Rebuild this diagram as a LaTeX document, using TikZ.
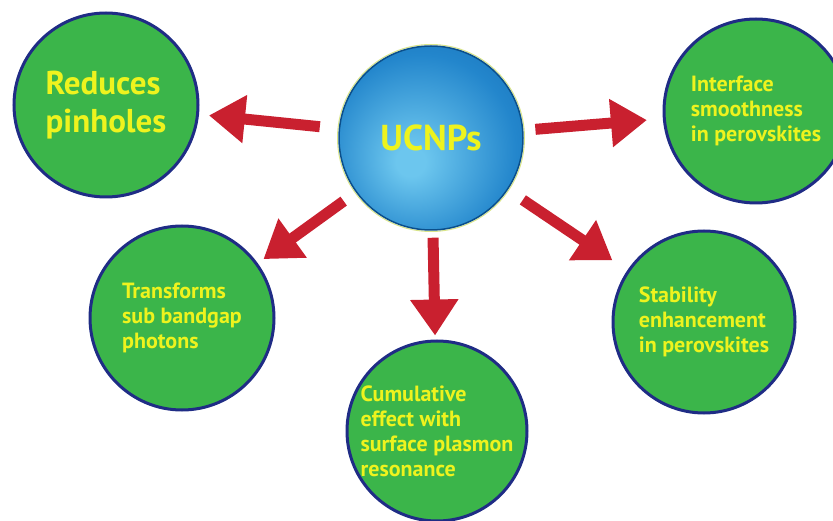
\documentclass[tikz,border=0pt]{standalone}
\usepackage{fontspec}
\setmainfont{PT Sans}
\usetikzlibrary{arrows.meta}
\definecolor{cgreen}{HTML}{3BB54A}
\definecolor{cnavy}{HTML}{1F2C85}
\definecolor{cyel}{HTML}{EEF31E}
\definecolor{cred}{HTML}{C9202F}
\definecolor{ballin}{HTML}{6CC6EE}
\definecolor{ballmid}{HTML}{2386CC}
\definecolor{ballout}{HTML}{1064AC}
\definecolor{balledge}{HTML}{0B4F8A}
\definecolor{ballrim}{HTML}{D9E58A}
\pgfdeclareradialshading{ucnpball}{\pgfpoint{-6bp}{-7bp}}{color(0bp)=(ballin); color(4bp)=(ballin); color(26bp)=(ballmid); color(45bp)=(ballout); color(50bp)=(balledge)}
\tikzset{
  effect/.style={circle, fill=cgreen, draw=cnavy, line width=3pt, minimum size=184pt, inner sep=0pt, text=cyel, align=left, font=\bfseries\fontsize{22}{25}\selectfont},
  outarrow/.style={draw=cred, line width=11pt, -{Triangle[length=36pt,width=46pt]}},
  hub/.style={circle, minimum size=184pt, inner sep=0pt, shading=ucnpball, draw=balledge, line width=1.5pt, text=cyel, font=\bfseries\fontsize{36}{40}\selectfont},
}
\begin{document}
\begin{tikzpicture}[x=1pt,y=-1pt]
\useasboundingbox (0,0) rectangle (833,521);
\clip (0,0) rectangle (833,521);
\node[effect, font=\bfseries\fontsize{33}{38}\selectfont] (R) at (106,105) {Reduces\\pinholes};
\node[effect] (I) at (756,111) {Interface\\smoothness\\in perovskites};
\node[effect] (T) at (182,318) {Transforms\\sub bandgap\\photons};
\node[effect, minimum size=180pt] (B) at (437,431) {Cumulative\\effect with\\surface plasmon\\resonance};
\node[effect, minimum size=182pt] (S) at (704,322) {Stability\\enhancement\\in perovskites};
\draw[ballrim, line width=1pt] (431,138) circle (93.5pt);
\node[hub] (C) at (431,138) {UCNPs};
\draw[outarrow, shorten <=19pt, shorten >=10pt] (C) -- (R);
\draw[outarrow, shorten <=12pt, shorten >=16pt] (C) -- (I);
\draw[outarrow, shorten <=15pt, shorten >=7pt] (C) -- (T);
\draw[outarrow, shorten <=7pt, shorten >=4pt] (C) -- (B);
\draw[outarrow, shorten <=18pt, shorten >=18pt] (C) -- (S);
\end{tikzpicture}
\end{document}
